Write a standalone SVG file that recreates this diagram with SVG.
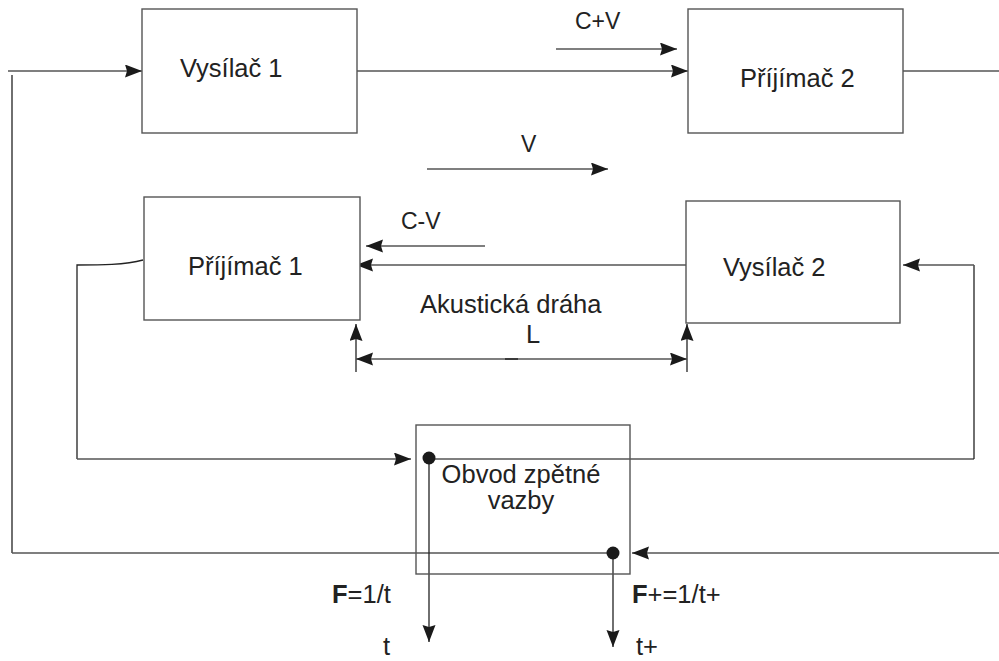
<svg xmlns="http://www.w3.org/2000/svg" width="999" height="661" viewBox="0 0 999 661">
<style>
.box{fill:#fff;stroke:#555;stroke-width:1.4}
.ln{fill:none;stroke:#555;stroke-width:1.5}
.dk{fill:none;stroke:#222;stroke-width:1.3}
.t{font-family:"Liberation Sans",Arial,sans-serif;fill:#222}
.lbl{font-size:25.5px}
.sm{font-size:23px}
.b{font-weight:bold}
</style>
<defs>
<marker id="ar" markerUnits="userSpaceOnUse" markerWidth="20" markerHeight="14" refX="17" refY="6.5" orient="auto-start-reverse">
<path d="M0,0 L17,6.5 L0,13 L2,6.5 z" fill="#1a1a1a"/>
</marker>
</defs>
<rect width="999" height="661" fill="#fff"/>
<g id="connectors">
<path class="ln" d="M8,71 H142" marker-end="url(#ar)"/>
<path class="dk" d="M12,75 V553"/>
<path class="ln" d="M12,553 H613"/>
<path class="ln" d="M357,71 H688" marker-end="url(#ar)"/>
<path class="ln" d="M903,71 H999"/>
<path class="ln" d="M556,49 H677" marker-end="url(#ar)"/>
<path class="ln" d="M427,169 H608" marker-end="url(#ar)"/>
<path class="ln" d="M485,246 H366" marker-end="url(#ar)"/>
<path class="ln" d="M686,265 H356" marker-end="url(#ar)"/>
<path class="dk" d="M143,260 C125,265 100,265 77,265 V459"/>
<path class="ln" d="M77,459 H411" marker-end="url(#ar)"/>
<path class="ln" d="M429,459 H974"/>
<path class="dk" d="M974,459 V265"/>
<path class="ln" d="M974,265 H903" marker-end="url(#ar)"/>
<path class="ln" d="M999,553 H632" marker-end="url(#ar)"/>
<path class="dk" d="M429,459 V642" marker-end="url(#ar)"/>
<path class="dk" d="M613,553 V647" marker-end="url(#ar)"/>
<path class="dk" d="M356,372 V324" marker-end="url(#ar)"/>
<path class="dk" d="M687,372 V324" marker-end="url(#ar)"/>
<path class="ln" d="M356,359 H687" marker-start="url(#ar)" marker-end="url(#ar)"/>
<path d="M505,359 H518" stroke="#333" stroke-width="1.8"/>
<circle cx="429" cy="458" r="6.5" fill="#1a1a1a"/>
<circle cx="613" cy="553" r="6.5" fill="#1a1a1a"/>
</g>
<g id="vysilac1">
<rect class="box" x="142" y="9" width="215" height="124"/>
<text class="t lbl" x="180" y="77">Vysílač 1</text>
</g>
<g id="prijimac2">
<rect class="box" x="688" y="9" width="215" height="124"/>
<text class="t lbl" x="740" y="87" font-size="26.5">Příjímač 2</text>
</g>
<g id="prijimac1">
<rect class="box" x="144" y="197" width="216" height="123"/>
<text class="t lbl" x="188" y="275" font-size="26.5">Příjímač 1</text>
</g>
<g id="vysilac2">
<rect class="box" x="686" y="201" width="214" height="122"/>
<text class="t lbl" x="723" y="276">Vysílač 2</text>
</g>
<g id="obvod">
<rect class="box" x="416" y="425" width="214" height="149" style="fill:none"/>
<text class="t lbl" x="521" y="483" text-anchor="middle" font-size="26.5">Obvod zpětné</text>
<text class="t lbl" x="521" y="509" text-anchor="middle" font-size="26.5">vazby</text>
</g>
<g id="labels">
<text class="t sm" x="575" y="29">C+V</text>
<text class="t sm" x="521" y="152">V</text>
<text class="t sm" x="401" y="229">C-V</text>
<text class="t lbl" x="420" y="313" font-size="26">Akustická dráha</text>
<text class="t lbl" x="526" y="343" font-size="26">L</text>
<text class="t lbl" x="332" y="603" font-size="26"><tspan class="b">F</tspan>=1/t</text>
<text class="t lbl" x="632" y="603" font-size="26"><tspan class="b">F</tspan>+=1/t+</text>
<text class="t lbl" x="383" y="655" font-size="26">t</text>
<text class="t lbl" x="636" y="655" font-size="26">t+</text>
</g>
</svg>
